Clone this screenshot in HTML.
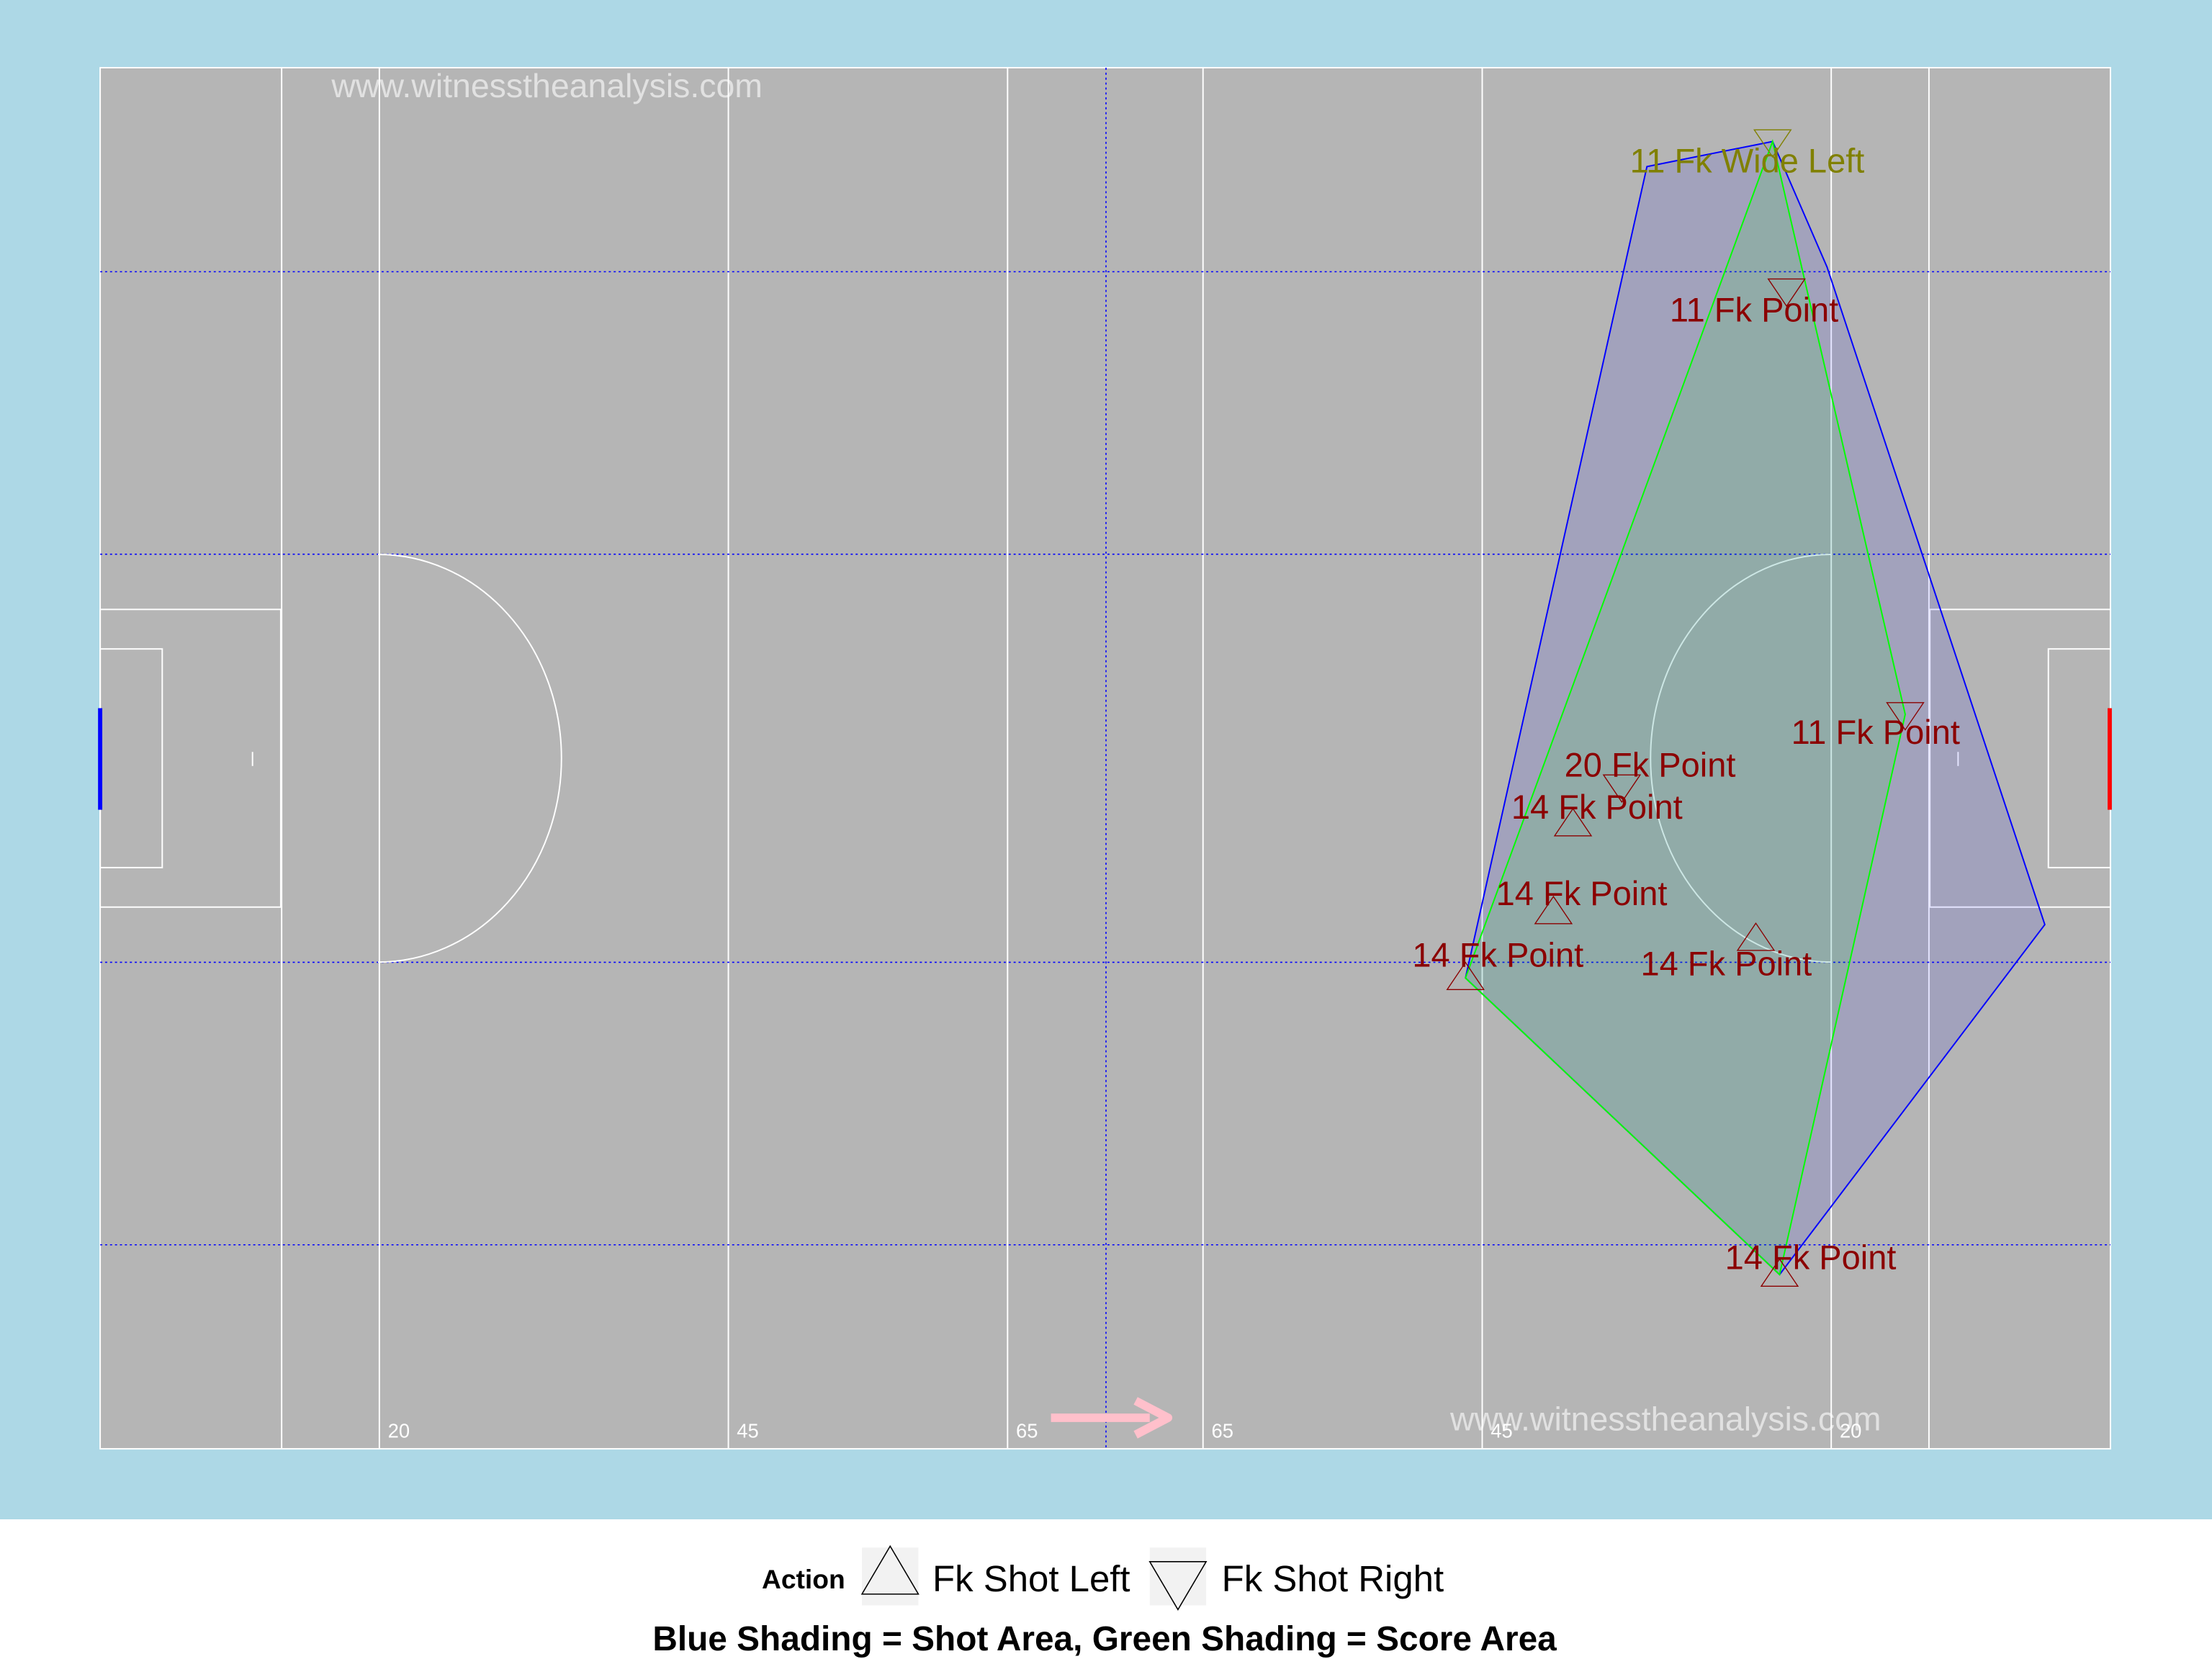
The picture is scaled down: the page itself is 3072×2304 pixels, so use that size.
<!DOCTYPE html>
<html><head><meta charset="utf-8"><style>
html,body{margin:0;padding:0;background:#fff}
svg{display:block}
text{font-family:"Liberation Sans",Arial,sans-serif}
</style></head><body>
<svg id="chart" width="3072" height="2304" viewBox="0 0 1568 1176" xmlns="http://www.w3.org/2000/svg">
<rect x="0" y="0" width="1568" height="1077" fill="#add8e6"/>
<rect x="0" y="1077" width="1568" height="99" fill="#ffffff"/>
<g id="pitch"></g>
<g id="areas"></g>
<g id="marks"></g>
<g>
  <text x="540" y="1126" font-size="19" font-weight="bold">Action</text>
  <rect x="611" y="1097" width="40" height="41" fill="#f2f2f2"/>
  <polygon points="631,1096 611,1130 651,1130" fill="none" stroke="#000" stroke-width="0.8"/>
  <text x="661" y="1128" font-size="26">Fk Shot Left</text>
  <rect x="815" y="1097" width="40" height="41" fill="#f2f2f2"/>
  <polygon points="815,1107 855,1107 835,1141" fill="none" stroke="#000" stroke-width="0.8"/>
  <text x="866" y="1128" font-size="26">Fk Shot Right</text>
  <text x="783" y="1170" font-size="24.4" font-weight="bold" text-anchor="middle">Blue Shading = Shot Area, Green Shading = Score Area</text>
</g>
</svg>
<script>
// Data (metres): pitch 144 x 88
const shotX = [119.8, 120.8, 129.3, 109.0, 105.5, 104.1, 97.8, 118.6, 120.3];
const shotY = [4.7, 14.2, 41.2, 45.8, 48.2, 53.8, 58.0, 55.5, 76.9];
const shotLabels = ["11 Fk Wide Left","11 Fk Point","11 Fk Point","20 Fk Point","14 Fk Point","14 Fk Point","14 Fk Point","14 Fk Point","14 Fk Point"];
const shotSide = ["right","right","right","right","left","left","left","left","left"];
const shotScored = [false,true,true,true,true,true,true,true,true];
const shotAreaX = [110.8, 119.8, 123.7, 139.3, 120.3, 97.8];
const shotAreaY = [6.3, 4.7, 12.7, 54.6, 76.9, 58.0];
const scoreAreaX = [119.8, 129.3, 120.3, 97.8];
const scoreAreaY = [4.7, 41.2, 76.9, 58.0];
const distTicks = [20, 45, 65];

const NS = "http://www.w3.org/2000/svg";
const X0 = 71, X1 = 1496, Y0 = 48, Y1 = 1027, LEN = 144, WID = 88;
function sx(m){ return X0 + m * (X1 - X0) / LEN; }
function sy(m){ return Y0 + m * (Y1 - Y0) / WID; }
function mk(tag, attrs, parent){
  const el = document.createElementNS(NS, tag);
  for (const k in attrs) el.setAttribute(k, attrs[k]);
  parent.appendChild(el);
  return el;
}
const pitch = document.getElementById('pitch');
const areas = document.getElementById('areas');
const marks = document.getElementById('marks');

let r = mk('rect', {x:X0, y:Y0, width:X1-X0, height:Y1-Y0, fill:'#b5b5b5', stroke:'#fff', 'stroke-width':1}, pitch);



[13,20,45,65].forEach(d => {
  [d, LEN - d].forEach(m => {
    const l = mk('line', {x1:sx(m), x2:sx(m), y1:Y0, y2:Y1, stroke:'#fff', 'stroke-width':1}, pitch);
    
    
  });
});
let hw = mk('line', {x1:sx(LEN/2)+0.5, x2:sx(LEN/2)+0.5, y1:Y0, y2:Y1, stroke:'#0000ff', 'stroke-width':0.8, 'stroke-dasharray':'1.5,2'}, pitch);


[13, 31, 57, 75].forEach(m => {
  const l = mk('line', {x1:X0, x2:X1, y1:sy(m), y2:sy(m), stroke:'#0000ff', 'stroke-width':0.8, 'stroke-dasharray':'1.5,2'}, pitch);
  
  
});
function box(x1,x2,y1,y2,name){
  const b = mk('rect', {x:Math.min(x1,x2), y:y1, width:Math.abs(x2-x1), height:y2-y1, fill:'none', stroke:'#fff', 'stroke-width':1}, pitch);
  
  
}
box(X0, 199, 432, 643, 'left-large-box');
box(X0, 115, 460, 615, 'left-small-box');
box(1368, X1, 432, 643, 'right-large-box');
box(1452, X1, 460, 615, 'right-small-box');
let a1 = mk('path', {d:'M268,393 A130,144.5 0 0 1 268,682', fill:'none', stroke:'#fff', 'stroke-width':1}, pitch);


let a2 = mk('path', {d:'M1298,393 A128,144.5 0 0 0 1298,682', fill:'none', stroke:'#fff', 'stroke-width':1}, pitch);


[[179],[1388]].forEach(p => {
  const t = mk('line', {x1:p[0], x2:p[0], y1:533, y2:543, stroke:'#fff', 'stroke-width':1}, pitch);
  
  
});
let g1 = mk('rect', {x:69.5, y:502, width:3, height:72, fill:'#0000ff'}, pitch);


let g2 = mk('rect', {x:1494, y:502, width:3, height:72, fill:'#ff0000'}, pitch);


distTicks.forEach(d => {
  const t1 = mk('text', {x:sx(d)+6, y:1019, 'font-size':14, fill:'#fff'}, pitch);
  t1.textContent = d;
  
  
  const t2 = mk('text', {x:sx(LEN-d)+6, y:1019, 'font-size':14, fill:'#fff'}, pitch);
  t2.textContent = d;
  
  
});
let ar = mk('path', {d:'M745,1005 L815,1005', stroke:'#ffc0cb', 'stroke-width':6, fill:'none'}, pitch);


let ah = mk('path', {d:'M805,993 L828,1005 L805,1017', stroke:'#ffc0cb', 'stroke-width':6, fill:'none', 'stroke-linejoin':'round'}, pitch);


[[235,69],[1028,1014]].forEach(p => {
  const w = mk('text', {x:p[0], y:p[1], 'font-size':23.7, fill:'#ffffff', 'fill-opacity':0.6}, pitch);
  w.textContent = 'www.witnesstheanalysis.com';
  
  
});

let bp = mk('polygon', {points: shotAreaX.map((x,i)=>sx(x)+','+sy(shotAreaY[i])).join(' '), fill:'#0000ff', 'fill-opacity':0.1, stroke:'#0000ff', 'stroke-width':1}, areas);


let gp = mk('polygon', {points: scoreAreaX.map((x,i)=>sx(x)+','+sy(scoreAreaY[i])).join(' '), fill:'#00ff00', 'fill-opacity':0.1, stroke:'#00ff00', 'stroke-width':1}, areas);



const labelDx = [-18, -23, -21, 20, 17, 20, 23, -21, 22];
const labelDy = [22, 22, 21, -7, -4, -5, -8, 26, -4];
shotX.forEach((x,i) => {
  const px = sx(x), py = sy(shotY[i]);
  const col = shotScored[i] ? '#8b0000' : '#808000';
  const s = 13, h = 11;
  const pts = shotSide[i] === 'left'
    ? `${px},${py-h} ${px-s},${py+h*0.75} ${px+s},${py+h*0.75}`
    : `${px},${py+h} ${px-s},${py-h*0.75} ${px+s},${py-h*0.75}`;
  const m = mk('polygon', {points:pts, fill:'none', stroke:col, 'stroke-width':0.7}, marks);
  
  
  const t = mk('text', {x:px+labelDx[i], y:py+labelDy[i], 'font-size':24, fill:col, 'text-anchor':'middle'}, marks);
  t.textContent = shotLabels[i];
  
  
});
</script>
</body></html>
